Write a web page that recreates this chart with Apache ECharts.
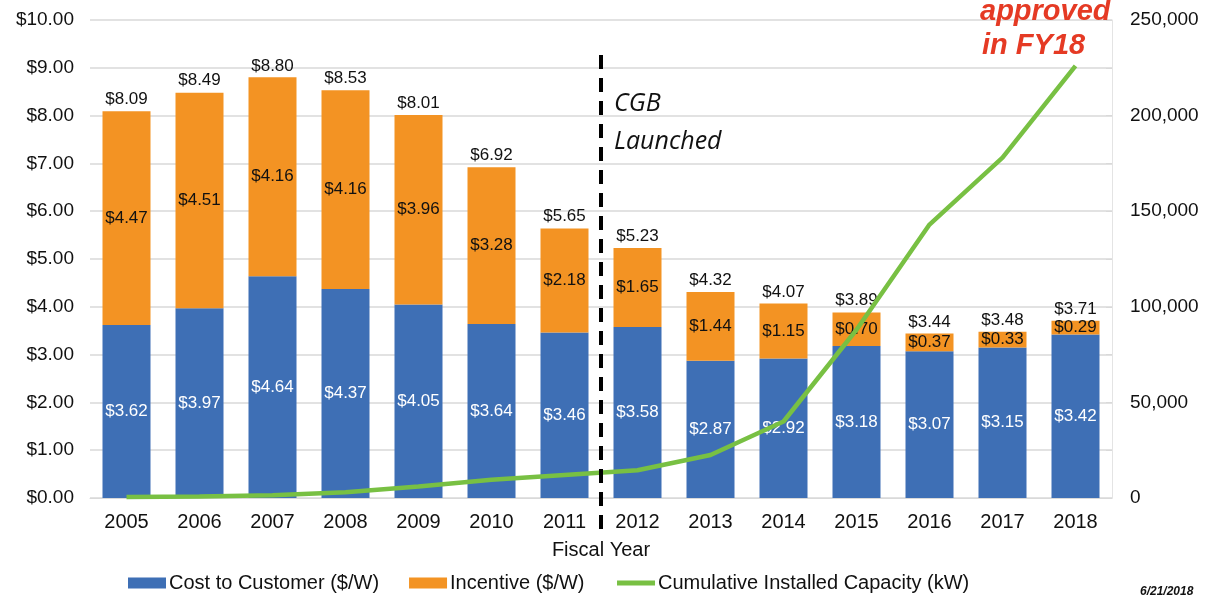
<!DOCTYPE html>
<html>
<head>
<meta charset="utf-8">
<script src="https://cdn.jsdelivr.net/npm/echarts@6/dist/echarts.min.js"></script>
<style>
html, body { margin: 0; padding: 0; background: #fff; }
#main { width: 1206px; height: 600px; }
</style>
</head>
<body>
<div id="main"></div>
<script>
var years = ['2005','2006','2007','2008','2009','2010','2011','2012','2013','2014','2015','2016','2017','2018'];
var costToCustomer = [3.62, 3.97, 4.64, 4.37, 4.05, 3.64, 3.46, 3.58, 2.87, 2.92, 3.18, 3.07, 3.15, 3.42];
var incentive = [4.47, 4.51, 4.16, 4.16, 3.96, 3.28, 2.18, 1.65, 1.44, 1.15, 0.70, 0.37, 0.33, 0.29];
var totals = [8.09, 8.49, 8.80, 8.53, 8.01, 6.92, 5.65, 5.23, 4.32, 4.07, 3.89, 3.44, 3.48, 3.71];
var capacity = [500, 800, 1500, 3000, 6000, 9500, 12000, 14500, 22500, 40000, 88000, 143000, 178000, 226000];

var FONT = 'Liberation Sans, Arial, sans-serif';
var money = function (v) { return '$' + v.toFixed(2); };

var chart = echarts.init(document.getElementById('main'));
var option = {
    animation: false,
    textStyle: { fontFamily: FONT },
    grid: { left: 90, right: 94, top: 20, bottom: 102 },
    legend: {
        left: 123,
        bottom: 2,
        itemWidth: 38,
        itemHeight: 11,
        itemGap: 30,
        textStyle: { fontSize: 20, color: '#111', fontFamily: FONT, padding: [0, 0, 0, -2] },
        data: [
            { name: 'Cost to Customer ($/W)', icon: 'rect' },
            { name: 'Incentive ($/W)', icon: 'rect' },
            { name: 'Cumulative Installed Capacity (kW)', itemStyle: { opacity: 0 }, lineStyle: { width: 5, color: '#78c043' } }
        ]
    },
    xAxis: {
        type: 'category',
        data: years,
        name: 'Fiscal Year',
        nameLocation: 'middle',
        nameGap: 42,
        nameTextStyle: { fontSize: 20, color: '#111' },
        axisLine: { lineStyle: { color: '#d9d9d9' } },
        axisTick: { show: false },
        axisLabel: { fontSize: 20, color: '#111', margin: 14 }
    },
    yAxis: [
        {
            type: 'value',
            min: 0, max: 10, interval: 1,
            axisLabel: { fontSize: 19, color: '#111', margin: 16, formatter: function (v) { return money(v); } },
            splitLine: { lineStyle: { color: '#d9d9d9', width: 1.5 } },
            axisLine: { show: false },
            axisTick: { show: false }
        },
        {
            type: 'value',
            min: 0, max: 250000, interval: 50000,
            axisLabel: { fontSize: 19, color: '#111', margin: 18, formatter: function (v) { return v.toLocaleString('en-US'); } },
            splitLine: { show: false },
            axisLine: { show: true, lineStyle: { color: '#e4e4e4' } },
            axisTick: { show: true, inside: true, length: 6, lineStyle: { color: '#d9d9d9' } },
            minorTick: { show: true, splitNumber: 2, length: 6, lineStyle: { color: '#d9d9d9' } }
        }
    ],
    series: [
        {
            name: 'Cost to Customer ($/W)',
            type: 'bar',
            stack: 'cost',
            barWidth: 48,
            data: costToCustomer,
            itemStyle: { color: '#3e6fb5' },
            label: { show: true, position: 'inside', color: '#fff', fontSize: 17, formatter: function (p) { return money(p.value); } }
        },
        {
            name: 'Incentive ($/W)',
            type: 'bar',
            stack: 'cost',
            barWidth: 48,
            data: incentive,
            itemStyle: { color: '#f39323' },
            label: { show: true, position: 'inside', color: '#111', fontSize: 17, formatter: function (p) { return money(p.value); } }
        },
        {
            name: 'Total',
            type: 'bar',
            barWidth: 48,
            barGap: '-100%',
            data: totals,
            itemStyle: { color: 'rgba(0,0,0,0)' },
            label: { show: true, position: 'top', distance: 3, color: '#111', fontSize: 17, formatter: function (p) { return money(p.value); } },
            silent: true,
            z: 1
        },
        {
            name: 'Cumulative Installed Capacity (kW)',
            type: 'line',
            yAxisIndex: 1,
            data: capacity,
            symbol: 'none',
            lineStyle: { color: '#78c043', width: 4.5 },
            itemStyle: { color: '#78c043' },
            z: 5
        }
    ]
};
chart.setOption(option);

// dashed divider between FY2011 and FY2012
var x1 = chart.convertToPixel({ xAxisIndex: 0 }, '2011');
var x2 = chart.convertToPixel({ xAxisIndex: 0 }, '2012');
var xd = (x1 + x2) / 2;
chart.setOption({
    graphic: [
        {
            type: 'line',
            shape: { x1: xd, y1: 55, x2: xd, y2: 532 },
            style: { stroke: '#000', lineWidth: 4, lineDash: [14, 9] },
            z: 10
        },
        {
            type: 'text', left: xd + 13, top: 91,
            style: { text: 'CGB', font: 'italic 25px "Open Sans", sans-serif', fill: '#111' }
        },
        {
            type: 'text', left: xd + 13, top: 129,
            style: { text: 'Launched', font: 'italic 25px "Open Sans", sans-serif', fill: '#111' }
        },
        {
            type: 'text', left: 980, top: -3,
            style: { text: 'approved', font: 'italic bold 29px Liberation Sans, Arial, sans-serif', fill: '#e53a24' }
        },
        {
            type: 'text', left: 982, top: 31,
            style: { text: 'in FY18', font: 'italic bold 29px Liberation Sans, Arial, sans-serif', fill: '#e53a24' }
        },
        {
            type: 'text', left: 1140, top: 586,
            style: { text: '6/21/2018', font: 'italic bold 12px Liberation Sans, Arial, sans-serif', fill: '#111' }
        }
    ]
});
</script>
</body>
</html>
